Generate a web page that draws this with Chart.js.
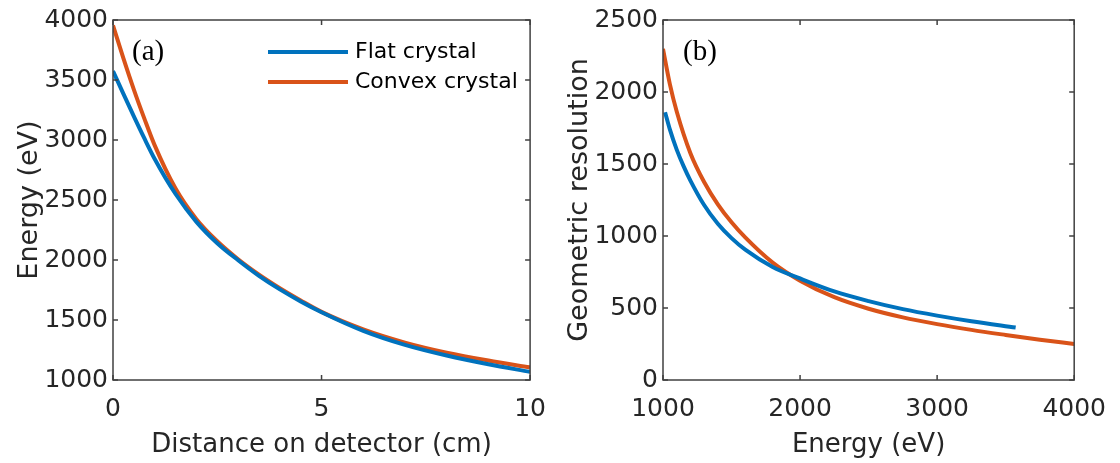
<!DOCTYPE html>
<html>
<head>
<meta charset="utf-8">
<script src="https://cdn.jsdelivr.net/npm/chart.js@4/dist/chart.umd.min.js"></script>
<style>
  body { margin: 0; background: #fff; }
  canvas { position: absolute; top: 0; }
  #chartA { left: 0; }
  #chartB { left: 560px; }
</style>
</head>
<body>
<canvas id="chartA" width="560" height="463"></canvas>
<canvas id="chartB" width="560" height="463"></canvas>
<script>
// ---- panel (a): energy vs distance on detector
var distCm = [0, 0.25, 0.5, 0.75, 1, 1.5, 2, 2.5, 3, 3.5, 4, 4.5, 5, 6, 7, 8, 9, 10];
var energyFlat = [3575, 3385, 3197, 3015, 2842, 2550, 2318, 2140, 1998, 1868, 1755, 1655, 1565, 1410, 1293, 1204, 1131, 1068];
var energyConvex = [3955, 3680, 3420, 3180, 2955, 2595, 2340, 2156, 2006, 1878, 1765, 1663, 1568, 1422, 1312, 1228, 1162, 1105];

// ---- panel (b): geometric resolution vs energy
var energyFlatB = [1015, 1050, 1100, 1150, 1200, 1300, 1400, 1500, 1600, 1800, 2000, 2250, 2500, 2750, 3000, 3250, 3573];
var resFlat = [1860, 1740, 1600, 1485, 1385, 1215, 1085, 985, 905, 785, 705, 615, 548, 492, 447, 408, 365];
var energyConvexB = [1000, 1050, 1100, 1200, 1300, 1400, 1500, 1600, 1800, 2000, 2250, 2500, 2750, 3000, 3250, 3500, 3750, 4000];
var resConvex = [2300, 2055, 1865, 1575, 1375, 1220, 1095, 990, 815, 690, 575, 495, 435, 388, 348, 313, 280, 250];

var seriesNames = ['Flat crystal', 'Convex crystal'];
var blue = '#0072BD';
var orange = '#D95319';
var ink = '#262626';

Chart.defaults.font.family = 'DejaVu Sans';
Chart.defaults.color = ink;

function pairs(xs, ys) {
    return xs.map(function (x, i) { return { x: x, y: ys[i] }; });
}

// box around the plot area with inward ticks on all four sides
var framePlugin = {
    id: 'frame',
    afterDraw: function (chart) {
        var ctx = chart.ctx;
        var a = chart.chartArea;
        var len = 5;
        ctx.save();
        ctx.strokeStyle = '#404040';
        ctx.lineWidth = 1.5;
        ctx.strokeRect(a.left, a.top, a.right - a.left, a.bottom - a.top);
        ctx.beginPath();
        chart.scales.x.ticks.forEach(function (t) {
            var px = chart.scales.x.getPixelForValue(t.value);
            ctx.moveTo(px, a.bottom); ctx.lineTo(px, a.bottom - len);
            ctx.moveTo(px, a.top); ctx.lineTo(px, a.top + len);
        });
        chart.scales.y.ticks.forEach(function (t) {
            var py = chart.scales.y.getPixelForValue(t.value);
            ctx.moveTo(a.left, py); ctx.lineTo(a.left + len, py);
            ctx.moveTo(a.right, py); ctx.lineTo(a.right - len, py);
        });
        ctx.stroke();
        ctx.restore();
    }
};

// "(a)" / "(b)" tag inside the plot
var tagPlugin = {
    id: 'tag',
    afterDraw: function (chart, args, opts) {
        if (!opts.text) return;
        var ctx = chart.ctx;
        ctx.save();
        ctx.font = '29px "Liberation Serif", "Times New Roman", serif';
        ctx.fillStyle = '#000';
        ctx.textBaseline = 'middle';
        ctx.fillText(opts.text, chart.chartArea.left + opts.dx, chart.chartArea.top + opts.dy);
        ctx.restore();
    }
};

// line-sample legend drawn inside panel (a)
var lineLegend = {
    id: 'lineLegend',
    afterDraw: function (chart, args, opts) {
        if (!opts.show) return;
        var ctx = chart.ctx;
        ctx.save();
        ctx.font = '22px "DejaVu Sans"';
        ctx.textBaseline = 'middle';
        chart.data.datasets.forEach(function (ds, i) {
            var y = opts.y + i * opts.gap;
            ctx.strokeStyle = ds.borderColor;
            ctx.lineWidth = 4;
            ctx.beginPath();
            ctx.moveTo(opts.x, y);
            ctx.lineTo(opts.x + 80, y);
            ctx.stroke();
            ctx.fillStyle = '#000';
            ctx.fillText(ds.label, opts.x + 87, y);
        });
        ctx.restore();
    }
};

function plain(v) { return String(v); }

function makeChart(id, cfg) {
    return new Chart(document.getElementById(id), {
        type: 'line',
        data: {
            datasets: [{
                label: seriesNames[0],
                data: cfg.flat,
                borderColor: blue,
                borderWidth: 4,
                pointRadius: 0,
                cubicInterpolationMode: 'monotone',
                fill: false
            }, {
                label: seriesNames[1],
                data: cfg.convex,
                borderColor: orange,
                borderWidth: 4,
                pointRadius: 0,
                cubicInterpolationMode: 'monotone',
                fill: false
            }]
        },
        options: {
            responsive: false,
            animation: false,
            layout: { padding: { left: 0, top: 15, right: cfg.padRight, bottom: 0 } },
            plugins: {
                legend: { display: false },
                tooltip: { enabled: false },
                tag: { text: cfg.tag, dx: cfg.tagDx, dy: 32 },
                lineLegend: { show: cfg.legend, x: 268, y: 52, gap: 30 }
            },
            scales: {
                x: {
                    type: 'linear',
                    min: cfg.xMin, max: cfg.xMax,
                    grid: { display: false, drawTicks: false },
                    border: { display: false },
                    ticks: { stepSize: cfg.xStep, padding: 14, font: { size: 25 }, color: ink, callback: plain },
                    title: { display: true, text: cfg.xTitle, font: { size: 26 }, color: ink, padding: { top: 0, bottom: 2 } },
                    afterFit: function (s) { s.height = 83; }
                },
                y: {
                    type: 'linear',
                    min: cfg.yMin, max: cfg.yMax,
                    grid: { display: false, drawTicks: false },
                    border: { display: false },
                    ticks: { stepSize: cfg.yStep, padding: 5, font: { size: 25 }, color: ink, callback: plain },
                    title: { display: true, text: cfg.yTitle, font: { size: 27 }, color: ink, padding: { top: cfg.yTitlePad, bottom: 0 } },
                    afterFit: function (s) { s.width = cfg.yWidth; }
                }
            }
        },
        plugins: [framePlugin, tagPlugin, lineLegend]
    });
}

makeChart('chartA', {
    flat: pairs(distCm, energyFlat),
    convex: pairs(distCm, energyConvex),
    xMin: 0, xMax: 10, xStep: 5,
    yMin: 1000, yMax: 4000, yStep: 500,
    xTitle: 'Distance on detector (cm)',
    yTitle: 'Energy (eV)',
    yWidth: 113, yTitlePad: 14, padRight: 29,
    tag: '(a)', tagDx: 19, legend: true
});

makeChart('chartB', {
    flat: pairs(energyFlatB, resFlat),
    convex: pairs(energyConvexB, resConvex),
    xMin: 1000, xMax: 4000, xStep: 1000,
    yMin: 0, yMax: 2500, yStep: 500,
    xTitle: 'Energy (eV)',
    yTitle: 'Geometric resolution',
    yWidth: 103, yTitlePad: 4, padRight: 40,
    tag: '(b)', tagDx: 20, legend: false
});
</script>
</body>
</html>
